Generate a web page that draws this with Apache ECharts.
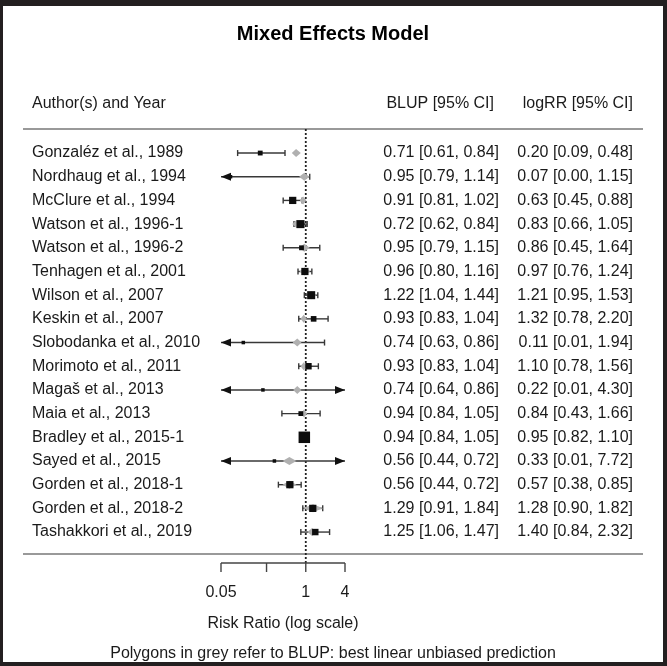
<!DOCTYPE html>
<html>
<head>
<meta charset="utf-8">
<script src="https://cdn.jsdelivr.net/npm/echarts@6/dist/echarts.min.js"></script>
<style>
html,body{margin:0;padding:0;background:#fff;}
#chart{width:667px;height:666px;}
</style>
</head>
<body>
<div id="chart"></div>
<script>
const studies = ['Gonzaléz et al., 1989','Nordhaug et al., 1994','McClure et al., 1994','Watson et al., 1996-1','Watson et al., 1996-2','Tenhagen et al., 2001','Wilson et al., 2007','Keskin et al., 2007','Slobodanka et al., 2010','Morimoto et al., 2011','Magaš et al., 2013','Maia et al., 2013','Bradley et al., 2015-1','Sayed et al., 2015','Gorden et al., 2018-1','Gorden et al., 2018-2','Tashakkori et al., 2019'];
const blup   = [0.71,0.95,0.91,0.72,0.95,0.96,1.22,0.93,0.74,0.93,0.74,0.94,0.94,0.56,0.56,1.29,1.25];
const blupLo = [0.61,0.79,0.81,0.62,0.79,0.80,1.04,0.83,0.63,0.83,0.64,0.84,0.84,0.44,0.44,0.91,1.06];
const blupHi = [0.84,1.14,1.02,0.84,1.15,1.16,1.44,1.04,0.86,1.04,0.86,1.05,1.05,0.72,0.72,1.84,1.47];
const rr     = [0.20,0.07,0.63,0.83,0.86,0.97,1.21,1.32,0.11,1.10,0.22,0.84,0.95,0.33,0.57,1.28,1.40];
const rrLo   = [0.09,0.00,0.45,0.66,0.45,0.76,0.95,0.78,0.01,0.78,0.01,0.43,0.82,0.01,0.38,0.90,0.84];
const rrHi   = [0.48,1.15,0.88,1.05,1.64,1.24,1.53,2.20,1.94,1.56,4.30,1.66,1.10,7.72,0.85,1.82,2.32];
const weights = [3,0.5,7.5,9,3,7.5,9,4.5,0.5,6,0.5,3,15.5,0.5,7.5,7.5,6];
const tickValues = [0.05,0.25,1,4];
const tickLabels = ['0.05','','1','4'];

const FONT = "'Liberation Sans', Arial, sans-serif";
const TXT = '#1a1a1a';
const aMin = 0.05, aMax = 4;
const xMin = Math.log(aMin), xMax = Math.log(aMax);
const f2 = v => v.toFixed(2);
const blupText = blup.map((v,i) => f2(v)+' ['+f2(blupLo[i])+', '+f2(blupHi[i])+']');
const rrText = rr.map((v,i) => f2(v)+' ['+f2(rrLo[i])+', '+f2(rrHi[i])+']');
const wMin = Math.min(...weights), wMax = Math.max(...weights);
const sqSize = w => 3.5 + (w - wMin) / (wMax - wMin) * 8;
const clampLn = v => Math.log(Math.min(Math.max(v, aMin), aMax));

const studyData = rr.map((v,i) => [Math.log(v), i]);

function renderStudy(params, api) {
  const k = params.dataIndex;
  const yc = api.coord([0, k])[1];
  const px = v => api.coord([clampLn(v), k])[0];
  const ch = [];
  const loClip = rrLo[k] < aMin, hiClip = rrHi[k] > aMax;
  const xl = px(rrLo[k]), xr = px(rrHi[k]);
  const lineStyle = {stroke:'#383838', lineWidth:1.4};
  ch.push({type:'line', shape:{x1:xl,y1:yc,x2:xr,y2:yc}, style:lineStyle});
  if (loClip) ch.push({type:'polygon', shape:{points:[[xl,yc],[xl+10,yc-4],[xl+10,yc+4]]}, style:{fill:'#111'}});
  else ch.push({type:'line', shape:{x1:xl,y1:yc-3,x2:xl,y2:yc+3}, style:lineStyle});
  if (hiClip) ch.push({type:'polygon', shape:{points:[[xr,yc],[xr-10,yc-4],[xr-10,yc+4]]}, style:{fill:'#111'}});
  else ch.push({type:'line', shape:{x1:xr,y1:yc-3,x2:xr,y2:yc+3}, style:lineStyle});
  const bl = px(blupLo[k]), bm = px(blup[k]), bh = px(blupHi[k]);
  ch.push({type:'polygon', shape:{points:[[bl,yc],[bm,yc-4],[bh,yc],[bm,yc+4]]}, style:{fill:'#b0b0b0'}});
  const s = sqSize(weights[k]);
  const cx = px(rr[k]);
  ch.push({type:'rect', shape:{x:cx-s/2,y:yc-s/2,width:s,height:s}, style:{fill:'#0d0d0d'}});
  return {type:'group', children:ch};
}

function renderAxis(params, api) {
  const ch = [];
  const axisY = 563;
  const x0 = api.coord([xMin, 0])[0], x1 = api.coord([xMax, 0])[0];
  const xr = api.coord([0, 0])[0];
  ch.push({type:'line', shape:{x1:xr,y1:129,x2:xr,y2:axisY}, style:{stroke:'#222', lineWidth:1.8, lineDash:[2,2]}});
  ch.push({type:'line', shape:{x1:x0,y1:axisY,x2:x1,y2:axisY}, style:{stroke:'#444', lineWidth:1.4}});
  tickValues.forEach((t,j) => {
    const tx = api.coord([Math.log(t), 0])[0];
    ch.push({type:'line', shape:{x1:tx,y1:axisY,x2:tx,y2:axisY+9}, style:{stroke:'#444', lineWidth:1.4}});
    if (tickLabels[j]) ch.push({type:'text', style:{x:tx, y:593, text:tickLabels[j], align:'center', verticalAlign:'middle', fontSize:16, fontFamily:FONT, fill:TXT}});
  });
  ch.push({type:'text', style:{x:(x0+x1)/2, y:624, text:'Risk Ratio (log scale)', align:'center', verticalAlign:'middle', fontSize:16, fontFamily:FONT, fill:TXT}});
  return {type:'group', children:ch};
}

const chart = echarts.init(document.getElementById('chart'), null, {renderer:'canvas'});
const catAxis = (data, pos, align, margin) => ({
  type:'category', data:data, inverse:true, position:pos,
  axisLine:{show:false}, axisTick:{show:false}, splitLine:{show:false},
  axisLabel:{interval:0, align:align, margin:margin, fontSize:16, fontFamily:FONT, color:TXT}
});
chart.setOption({
  backgroundColor:'#ffffff',
  animation:false,
  grid:{left:221, right:322, top:141.2, height:402.7},
  xAxis:{type:'value', min:xMin, max:xMax, show:false},
  yAxis:[
    catAxis(studies, 'left', 'left', 189),
    catAxis(blupText, 'right', 'right', 154),
    catAxis(rrText, 'right', 'right', 288)
  ],
  graphic:[
    {type:'text', x:333, y:34, style:{text:'Mixed Effects Model', align:'center', verticalAlign:'middle', fontSize:20, fontWeight:'bold', fontFamily:FONT, fill:'#000'}},
    {type:'text', x:32, y:104, style:{text:'Author(s) and Year', align:'left', verticalAlign:'middle', fontSize:16, fontFamily:FONT, fill:TXT}},
    {type:'text', x:494, y:104, style:{text:'BLUP [95% CI]', align:'right', verticalAlign:'middle', fontSize:16, fontFamily:FONT, fill:TXT}},
    {type:'text', x:633, y:104, style:{text:'logRR [95% CI]', align:'right', verticalAlign:'middle', fontSize:16, fontFamily:FONT, fill:TXT}},
    {type:'line', shape:{x1:23,y1:129,x2:643,y2:129}, style:{stroke:'#999', lineWidth:2}},
    {type:'line', shape:{x1:23,y1:554,x2:643,y2:554}, style:{stroke:'#999', lineWidth:2}},
    {type:'text', x:333, y:654, style:{text:'Polygons in grey refer to BLUP: best linear unbiased prediction', align:'center', verticalAlign:'middle', fontSize:16, fontFamily:FONT, fill:TXT}},
    {type:'rect', shape:{x:0,y:0,width:667,height:6}, style:{fill:'#231f20'}},
    {type:'rect', shape:{x:0,y:0,width:3,height:666}, style:{fill:'#231f20'}},
    {type:'rect', shape:{x:663,y:0,width:4,height:666}, style:{fill:'#231f20'}},
    {type:'rect', shape:{x:0,y:662,width:667,height:4}, style:{fill:'#231f20'}}
  ],
  series:[
    {type:'custom', name:'axis', coordinateSystem:'cartesian2d', clip:false, data:[[0,0]], renderItem:renderAxis, silent:true, z:1},
    {type:'custom', name:'studies', coordinateSystem:'cartesian2d', clip:false, data:studyData, encode:{x:0,y:1}, renderItem:renderStudy, z:2}
  ]
});
</script>
</body>
</html>
